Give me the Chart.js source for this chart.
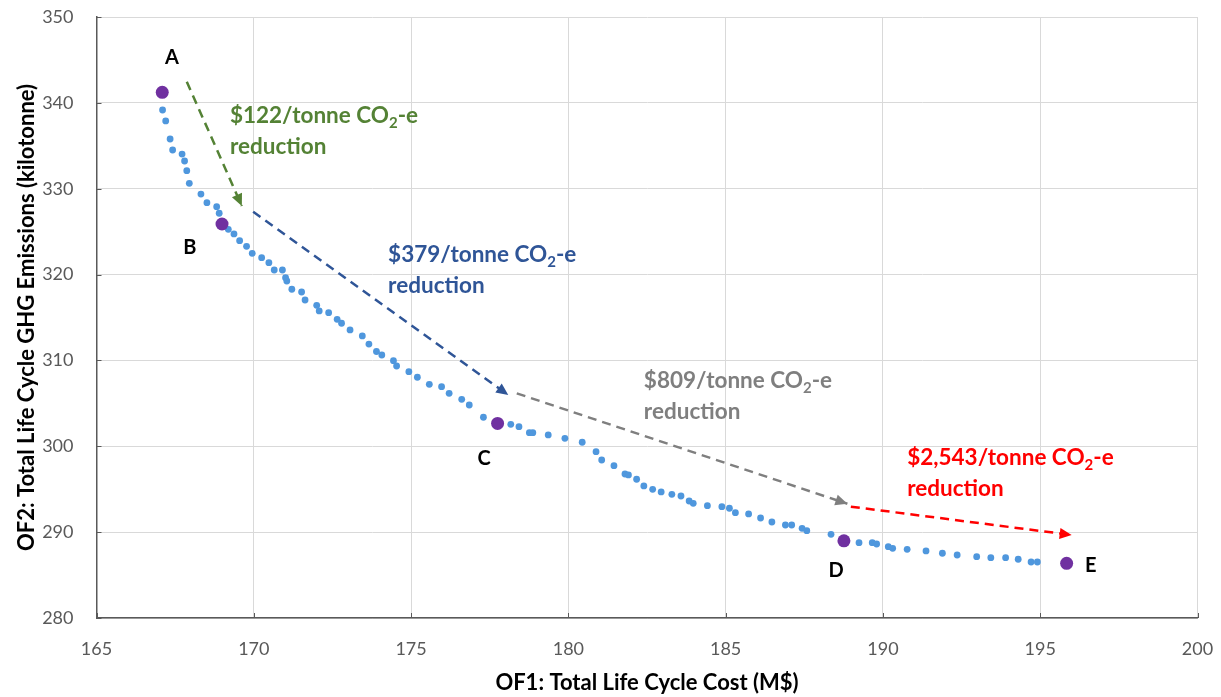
<!DOCTYPE html>
<html>
<head>
<meta charset="utf-8">
<script src="https://cdn.jsdelivr.net/npm/chart.js@4.4.1/dist/chart.umd.min.js"></script>
<style>
  html, body { margin: 0; padding: 0; background: #ffffff; }
  #wrap { position: relative; width: 1221px; height: 697px; }
</style>
</head>
<body>
<div id="wrap"><canvas id="c" width="1221" height="697"></canvas></div>
<script>
// Pareto front of the two objectives: OF1 total life cycle cost (M$), OF2 GHG emissions (kilotonne)
const frontCost = [
  167.10, 167.20, 167.34, 167.42, 167.72, 167.80, 167.87, 167.95, 168.32, 168.51,
  168.82, 168.90, 169.19, 169.37, 169.55, 169.77, 169.95, 170.25, 170.48, 170.65,
  170.91, 171.01, 171.05, 171.21, 171.52, 171.63, 172.00, 172.08, 172.38, 172.65,
  172.79, 173.06, 173.45, 173.66, 173.90, 174.07, 174.44, 174.54, 174.93, 175.20,
  175.58, 175.97, 176.21, 176.61, 176.85, 177.30, 178.17, 178.43, 178.76, 178.87,
  179.36, 179.89, 180.44, 180.88, 181.06, 181.45, 181.80, 181.91, 182.17, 182.40,
  182.68, 182.95, 183.29, 183.58, 183.84, 183.97, 184.42, 184.88, 185.12, 185.31,
  185.73, 186.11, 186.47, 186.90, 187.10, 187.43, 187.58, 188.35, 189.24, 189.66,
  189.80, 190.17, 190.31, 190.77, 191.37, 191.89, 192.36, 192.98, 193.43, 193.90,
  194.30, 194.71, 194.91
];
const frontEmis = [
  339.17, 337.89, 335.79, 334.51, 334.04, 333.23, 332.10, 330.63, 329.38, 328.37,
  327.91, 327.14, 325.27, 324.73, 323.95, 323.29, 322.48, 321.97, 321.38, 320.53,
  320.53, 319.64, 319.25, 318.29, 317.97, 317.04, 316.42, 315.76, 315.56, 314.79,
  314.33, 313.55, 312.85, 311.91, 311.04, 310.63, 309.97, 309.35, 308.69, 308.04,
  307.22, 306.94, 306.17, 305.47, 304.81, 303.38, 302.56, 302.28, 301.58, 301.58,
  301.32, 300.93, 300.47, 299.37, 298.40, 297.74, 296.77, 296.66, 296.16, 295.38,
  294.99, 294.68, 294.41, 294.21, 293.63, 293.36, 293.08, 292.97, 292.78, 292.27,
  292.12, 291.65, 291.18, 290.83, 290.83, 290.45, 290.17, 289.75, 288.77, 288.77,
  288.62, 288.31, 288.12, 288.00, 287.81, 287.54, 287.34, 287.14, 287.03, 287.03,
  286.84, 286.52, 286.52
];

// Selected solutions A–E
const keyNames = ['A', 'B', 'C', 'D', 'E'];
const keyCost = [167.09, 168.99, 177.75, 188.76, 195.84];
const keyEmis = [341.23, 325.89, 302.66, 288.99, 286.37];
const keyLabelCost = [167.40, 167.97, 177.32, 188.51, 196.61];
const keyLabelEmis = [345.22, 323.10, 298.52, 285.48, 286.06];

// Marginal abatement cost arrows between the selected solutions
const arrowFromCost = [167.87, 169.98, 178.36, 188.98];
const arrowFromEmis = [342.46, 327.32, 306.17, 292.97];
const arrowToCost = [169.62, 178.09, 188.87, 196.00];
const arrowToEmis = [327.99, 305.97, 293.31, 289.67];
const noteText = [
  ['$122/tonne CO₂-e', 'reduction'],
  ['$379/tonne CO₂-e', 'reduction'],
  ['$809/tonne CO₂-e', 'reduction'],
  ['$2,543/tonne CO₂-e', 'reduction']
];
const noteCost = [169.24, 174.27, 182.40, 190.77];
const noteEmis = [338.47, 322.28, 307.60, 298.64];

// Axis ticks
const xTicks = [165, 170, 175, 180, 185, 190, 195, 200];
const yTicks = [280, 290, 300, 310, 320, 330, 340, 350];

// Styles
const arrowColors = ['#548235', '#2F5597', '#7F7F7F', '#FF0000'];
const FONT = 'Lato, "Open Sans", sans-serif';

const arrowSets = arrowFromCost.map((x0, i) => ({
  label: 'arrow' + i,
  data: [{ x: x0, y: arrowFromEmis[i] }, { x: arrowToCost[i], y: arrowToEmis[i] }],
  showLine: true,
  borderColor: arrowColors[i],
  borderWidth: 2.5,
  borderDash: [9, 6],
  pointRadius: 0,
  fill: false,
  order: 3
}));

// Draws a text line with "₂" rendered as a subscript
function drawRich(ctx, text, x, y, size) {
  const parts = text.split('₂');
  let cx = x;
  parts.forEach((p, k) => {
    ctx.font = 'bold ' + size + 'px ' + FONT;
    ctx.fillText(p, cx, y);
    cx += ctx.measureText(p).width;
    if (k < parts.length - 1) {
      ctx.font = 'bold ' + Math.round(size * 0.65) + 'px ' + FONT;
      ctx.fillText('2', cx, y + size * 0.3);
      cx += ctx.measureText('2').width;
    }
  });
}

const annotate = {
  id: 'annotate',
  afterDatasetsDraw(chart) {
    const ctx = chart.ctx;
    const xs = chart.scales.x, ys = chart.scales.y;
    ctx.save();
    // arrow heads
    arrowSets.forEach((ds, i) => {
      const meta = chart.getDatasetMeta(i);
      const p0 = meta.data[0], p1 = meta.data[1];
      const ang = Math.atan2(p1.y - p0.y, p1.x - p0.x);
      const L = 12, W = 5.5;
      ctx.fillStyle = arrowColors[i];
      ctx.beginPath();
      ctx.moveTo(p1.x, p1.y);
      ctx.lineTo(p1.x - L * Math.cos(ang) + W * Math.sin(ang), p1.y - L * Math.sin(ang) - W * Math.cos(ang));
      ctx.lineTo(p1.x - L * Math.cos(ang) - W * Math.sin(ang), p1.y - L * Math.sin(ang) + W * Math.cos(ang));
      ctx.closePath();
      ctx.fill();
    });
    // notes
    ctx.textBaseline = 'middle';
    ctx.textAlign = 'left';
    noteText.forEach((lines, i) => {
      ctx.fillStyle = arrowColors[i];
      const x = xs.getPixelForValue(noteCost[i]);
      const y = ys.getPixelForValue(noteEmis[i]);
      lines.forEach((t, j) => drawRich(ctx, t, x, y + j * 31, 22.5));
    });
    // point letters
    ctx.fillStyle = '#000000';
    ctx.textAlign = 'center';
    ctx.font = 'bold 20px ' + FONT;
    keyNames.forEach((n, i) => {
      ctx.fillText(n, xs.getPixelForValue(keyLabelCost[i]), ys.getPixelForValue(keyLabelEmis[i]));
    });
    // inside tick marks
    ctx.strokeStyle = '#595959';
    ctx.lineWidth = 1;
    const area = chart.chartArea;
    ctx.beginPath();
    xTicks.forEach(v => {
      const px = Math.round(xs.getPixelForValue(v)) + 0.5;
      ctx.moveTo(px, area.bottom);
      ctx.lineTo(px, area.bottom - 5);
    });
    yTicks.forEach(v => {
      const py = Math.round(ys.getPixelForValue(v)) + 0.5;
      ctx.moveTo(area.left, py);
      ctx.lineTo(area.left + 5, py);
    });
    ctx.stroke();
    ctx.restore();
  }
};

new Chart(document.getElementById('c'), {
  type: 'scatter',
  data: {
    datasets: [
      ...arrowSets,
      {
        label: 'Pareto front',
        data: frontCost.map((x, i) => ({ x, y: frontEmis[i] })),
        backgroundColor: '#4F97DD',
        borderWidth: 0,
        pointRadius: 3.4,
        order: 2
      },
      {
        label: 'Selected solutions',
        data: keyCost.map((x, i) => ({ x, y: keyEmis[i] })),
        backgroundColor: '#7030A0',
        borderWidth: 0,
        pointRadius: 6.5,
        order: 1
      }
    ]
  },
  options: {
    responsive: false,
    animation: false,
    devicePixelRatio: 1,
    layout: { padding: { top: 17, right: 23.5, left: 0, bottom: 0 } },
    plugins: { legend: { display: false }, tooltip: { enabled: false } },
    scales: {
      x: {
        type: 'linear', min: 165, max: 200,
        afterBuildTicks: s => { s.ticks = xTicks.map(v => ({ value: v })); },
        afterFit: s => { s.height = 79; s.paddingLeft = 0; s.paddingRight = 0; },
        grid: { color: '#D9D9D9', lineWidth: 1, drawTicks: false },
        border: { color: '#595959', width: 1.5 },
        ticks: { color: '#595959', font: { family: FONT, size: 18 }, padding: 20 },
        title: { display: true, text: 'OF1: Total Life Cycle Cost (M$)', color: '#000000',
                 font: { family: FONT, size: 22, weight: 'bold' }, padding: { top: 0, bottom: 1 } }
      },
      y: {
        type: 'linear', min: 280, max: 350,
        afterBuildTicks: s => { s.ticks = yTicks.map(v => ({ value: v })); },
        afterFit: s => { s.width = 96.5; s.paddingTop = 0; s.paddingBottom = 0; },
        grid: { color: '#D9D9D9', lineWidth: 1, drawTicks: false },
        border: { color: '#595959', width: 1.5 },
        ticks: { color: '#595959', font: { family: FONT, size: 18 }, padding: 23 },
        title: { display: true, text: 'OF2: Total Life Cycle GHG Emissions (kilotonne)', color: '#000000',
                 font: { family: FONT, size: 22, weight: 'bold' }, padding: { top: 14, bottom: 0 } }
      }
    }
  },
  plugins: [annotate]
});
</script>
</body>
</html>
